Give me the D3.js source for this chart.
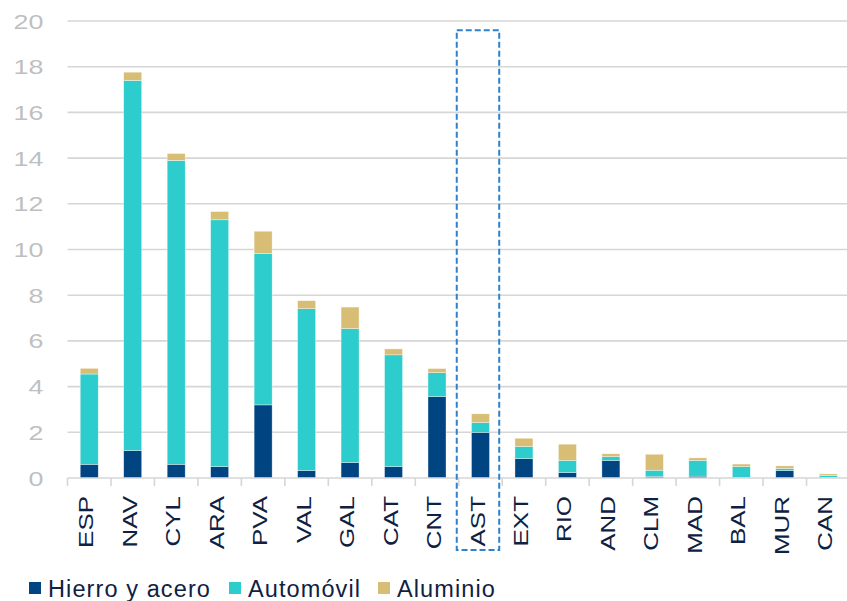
<!DOCTYPE html>
<html>
<head>
<meta charset="utf-8">
<script src="https://cdn.jsdelivr.net/npm/d3@7"></script>
<style>
    body { margin: 0; background: #fff; }
    svg { display: block; font-family: "Liberation Sans", Arial, sans-serif; }
</style>
</head>
<body>
<div class="chart"></div>
<script>
    // regions, in chart order
    let regions = ["ESP", "NAV", "CYL", "ARA", "PVA", "VAL", "GAL", "CAT", "CNT",
        "AST", "EXT", "RIO", "AND", "CLM", "MAD", "BAL", "MUR", "CAN"];
    let hierro = [0.6, 1.2, 0.6, 0.5, 3.2, 0.33, 0.68, 0.5, 3.56, 2.0, 0.85, 0.24, 0.77, 0.07, 0.08, 0.02, 0.33, 0.02];
    let automovil = [3.95, 16.2, 13.3, 10.8, 6.63, 7.08, 5.86, 4.89, 1.05, 0.43, 0.53, 0.53, 0.17, 0.27, 0.69, 0.48, 0.09, 0.09];
    let aluminio = [0.25, 0.36, 0.3, 0.36, 0.97, 0.35, 0.94, 0.26, 0.18, 0.38, 0.36, 0.71, 0.12, 0.7, 0.11, 0.11, 0.11, 0.07];
    let seriesNames = ["Hierro y acero", "Automóvil", "Aluminio"];
    let seriesColors = ["#004481", "#2dcccd", "#d8be75"];
    let yTicks = [0, 2, 4, 6, 8, 10, 12, 14, 16, 18, 20];
    let highlighted = "AST";

    let width = 847, height = 601;
    let margin = {top: 21, right: -3, bottom: 123, left: 67.5};
    let innerW = width - margin.left - margin.right,
        innerH = height - margin.top - margin.bottom;

    let svg = d3.select(".chart").append("svg")
        .attr("width", width).attr("height", height);
    let g = svg.append("g")
        .attr("transform", "translate(" + margin.left + "," + margin.top + ")");

    let x = d3.scaleBand().domain(regions).range([0, innerW]).paddingInner(0).paddingOuter(0);
    let y = d3.scaleLinear().domain([0, 20]).range([innerH, 0]);
    let barW = 18;

    // gridlines
    g.append("g").selectAll("line")
        .data(yTicks.filter(function (d) { return d > 0; }))
        .enter().append("line")
        .attr("x1", 0).attr("x2", innerW + 10)
        .attr("y1", function (d) { return y(d); })
        .attr("y2", function (d) { return y(d); })
        .attr("stroke", "#d6d6d6").attr("stroke-width", 1.6);

    // y labels (the original text is drawn a bit wide)
    g.append("g").selectAll("text")
        .data(yTicks)
        .enter().append("text")
        .attr("transform", function (d) {
            return "translate(-24," + y(d) + ") scale(1.28,1)";
        })
        .attr("dy", "0.36em")
        .attr("text-anchor", "end")
        .attr("fill", "#bfbfbf")
        .attr("font-size", "21px")
        .text(function (d) { return d; });

    // stacked bars
    let table = regions.map(function (r, i) {
        return {region: r, s0: hierro[i], s1: automovil[i], s2: aluminio[i]};
    });
    let stacked = d3.stack().keys(["s0", "s1", "s2"])(table);

    g.append("g").selectAll("g")
        .data(stacked)
        .enter().append("g")
        .attr("fill", function (d, i) { return seriesColors[i]; })
        .selectAll("rect")
        .data(function (d) { return d; })
        .enter().append("rect")
        .attr("x", function (d) { return x(d.data.region) + x.bandwidth() / 2 - barW / 2; })
        .attr("y", function (d) { return y(d[1]); })
        .attr("height", function (d) { return y(d[0]) - y(d[1]); })
        .attr("width", barW)
        .attr("stroke", "#ffffff").attr("stroke-opacity", 0.6).attr("stroke-width", 0.6);

    // x axis
    let xAxis = g.append("g").attr("transform", "translate(0," + innerH + ")");
    xAxis.append("line")
        .attr("x1", 0).attr("x2", innerW + 10)
        .attr("stroke", "#d6d6d6").attr("stroke-width", 1.6);
    xAxis.selectAll(".tick-mark")
        .data(regions)
        .enter().append("line")
        .attr("class", "tick-mark")
        .attr("x1", function (d) { return x(d); })
        .attr("x2", function (d) { return x(d); })
        .attr("y1", 0).attr("y2", 8)
        .attr("stroke", "#d6d6d6").attr("stroke-width", 1.6);
    xAxis.selectAll(".x-label")
        .data(regions)
        .enter().append("text")
        .attr("class", "x-label")
        .attr("transform", function (d) {
            return "translate(" + (x(d) + x.bandwidth() / 2 - 3) + ",18) rotate(-90) scale(1.33,1)";
        })
        .attr("dy", "0.36em")
        .attr("text-anchor", "end")
        .attr("fill", "#0f2142")
        .attr("font-size", "19.5px")
        .text(function (d) { return d; });

    // dashed highlight box
    g.append("rect")
        .attr("x", x(highlighted) - 2)
        .attr("y", y(19.6))
        .attr("width", x.bandwidth() - 1)
        .attr("height", innerH - y(19.6) + 72)
        .attr("fill", "none")
        .attr("stroke", "#2c82cc")
        .attr("stroke-width", 2)
        .attr("stroke-dasharray", "6,3");

    // legend
    let legend = svg.append("g").attr("transform", "translate(29,582)");
    let legendX = [0, 200, 349];
    seriesNames.forEach(function (name, i) {
        let item = legend.append("g").attr("transform", "translate(" + legendX[i] + ",0)");
        item.append("rect").attr("width", 12).attr("height", 12).attr("fill", seriesColors[i]);
        item.append("text")
            .attr("x", 19).attr("y", 15)
            .attr("fill", "#0f2142")
            .attr("font-size", "23.5px")
            .attr("letter-spacing", "1.1px")
            .text(name);
    });
</script>
</body>
</html>
